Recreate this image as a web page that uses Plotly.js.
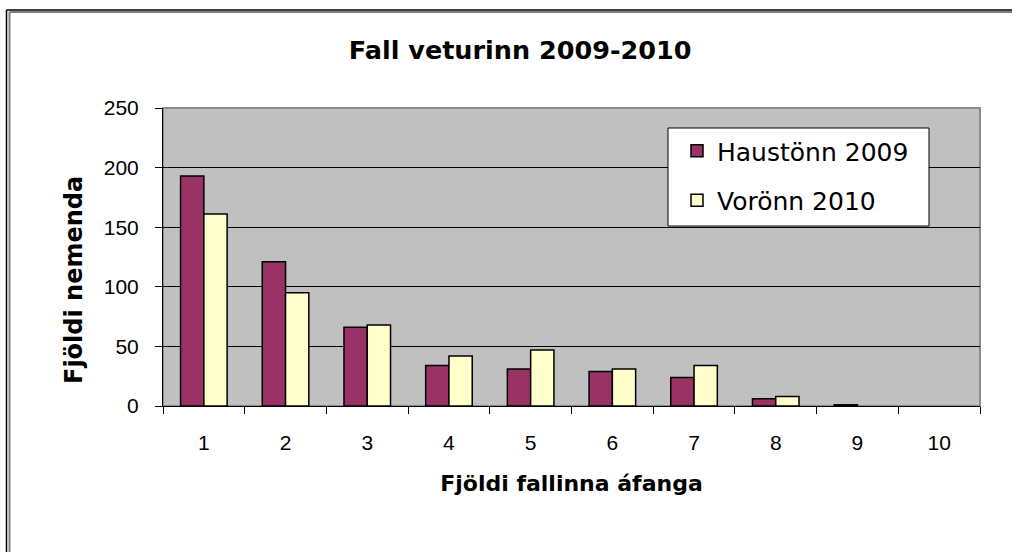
<!DOCTYPE html>
<html>
<head>
<meta charset="utf-8">
<script src="https://cdn.plot.ly/plotly-3.0.1.min.js"></script>
<style>
  html, body { margin: 0; padding: 0; background: #ffffff; }
  #chart { width: 1012px; height: 552px; }
</style>
</head>
<body>
<div id="chart"></div>
<script>
const categories = ['1', '2', '3', '4', '5', '6', '7', '8', '9', '10'];
const haust2009 = [193, 121, 66, 34, 31, 29, 24, 6, 1, 0];
const vor2010 = [161, 95, 68, 42, 47, 31, 34, 8, 0, 0];
const seriesNames = ['Haustönn 2009', 'Vorönn 2010'];
const chartTitle = 'Fall veturinn 2009-2010';
const xTitle = 'Fjöldi fallinna áfanga';
const yTitle = 'Fjöldi nemenda';
const yTicks = [0, 50, 100, 150, 200, 250];

const ARIAL = 'Liberation Sans, Arial, sans-serif';
const WIDE = 'DejaVu Sans, Liberation Sans, Arial, sans-serif';

// no outline on empty (zero-height) bars
const outline = vals => vals.map(v => (v === 0 ? 0 : 1.5));

const traces = [
  {
    type: 'bar', name: seriesNames[0], x: categories, y: haust2009,
    legendgroup: 'a',
    marker: { color: '#993366', line: { color: '#000000', width: outline(haust2009) } },
    hoverinfo: 'x+y+name'
  },
  {
    type: 'bar', name: seriesNames[1], x: categories, y: vor2010,
    legendgroup: 'b',
    marker: { color: '#FFFFCC', line: { color: '#000000', width: outline(vor2010) } },
    hoverinfo: 'x+y+name'
  }
];

const L = 163, R = 980, T = 108, B = 406, W = 1012, H = 552;
const pw = R - L, ph = B - T;
const px = v => (v - L) / pw;
const py = v => (B - v) / ph;

const layout = {
  width: W, height: H,
  margin: { l: L, r: W - R, t: T, b: H - B, pad: 0 },
  paper_bgcolor: '#ffffff',
  plot_bgcolor: '#C0C0C0',
  font: { family: ARIAL, color: '#000000', size: 21 },
  barmode: 'group',
  bargap: 0.43,
  bargroupgap: 0,
  showlegend: true,
  title: {
    text: chartTitle,
    font: { family: WIDE, size: 25.5, color: '#000000', weight: 'bold' },
    x: 0.514, xref: 'container', xanchor: 'center',
    y: 1 - 50 / H, yref: 'container', yanchor: 'middle'
  },
  xaxis: {
    type: 'category',
    categoryorder: 'array', categoryarray: categories,
    tickson: 'boundaries',
    ticks: 'outside', ticklen: 7, tickwidth: 1, tickcolor: '#000000',
    showline: true, linecolor: '#000000', linewidth: 1,
    showgrid: false, zeroline: false,
    tickfont: { family: ARIAL, size: 21, color: '#000000' },
    ticklabelstandoff: 18,
    automargin: true,
    title: { text: xTitle, font: { family: WIDE, size: 22, color: '#000000', weight: 'bold' }, standoff: 22 },
    fixedrange: true
  },
  yaxis: {
    range: [0, 250],
    tickvals: yTicks,
    ticktext: yTicks.map(String),
    ticks: 'outside', ticklen: 7, tickwidth: 1, tickcolor: '#000000',
    showline: true, linecolor: '#000000', linewidth: 1,
    showgrid: true, gridcolor: '#000000', gridwidth: 1,
    zeroline: false,
    tickfont: { family: ARIAL, size: 21, color: '#000000' },
    ticklabelstandoff: 12,
    automargin: true,
    fixedrange: true
  },
  annotations: [
    // y-axis title (Excel centres it lower than the plot centre)
    { text: yTitle, textangle: -90, showarrow: false,
      xref: 'paper', yref: 'paper', x: px(74), y: py(280),
      xanchor: 'center', yanchor: 'middle',
      font: { family: WIDE, size: 24, color: '#000000', weight: 'bold' } }
  ],
  legend: {
    x: px(677), xanchor: 'left',
    y: py(128), yanchor: 'top',
    bgcolor: 'rgba(0,0,0,0)',
    borderwidth: 0,
    traceorder: 'grouped',
    tracegroupgap: 14,
    font: { family: WIDE, size: 25, color: '#000000' },
    itemclick: false, itemdoubleclick: false
  },
  shapes: [
    // plot area border
    { type: 'rect', xref: 'paper', yref: 'paper', x0: 0, x1: 1, y0: 0, y1: 1,
      line: { color: '#8a8a8a', width: 2 }, fillcolor: 'rgba(0,0,0,0)', layer: 'below' },
    // legend box
    { type: 'rect', xref: 'paper', yref: 'paper', x0: px(668), x1: px(929), y0: py(226), y1: py(128),
      line: { color: '#000000', width: 1 }, fillcolor: '#ffffff', layer: 'above' },
    // outer chart frame (black)
    { type: 'line', xref: 'paper', yref: 'paper', x0: px(6.5), x1: px(6.5), y0: py(10), y1: py(570),
      line: { color: '#000000', width: 1.5 } },
    { type: 'line', xref: 'paper', yref: 'paper', x0: px(6.5), x1: px(1030), y0: py(10), y1: py(10),
      line: { color: '#000000', width: 1.5 } },
    // inner gray frame
    { type: 'line', xref: 'paper', yref: 'paper', x0: px(9.5), x1: px(9.5), y0: py(12), y1: py(570),
      line: { color: '#808080', width: 2 } },
    { type: 'line', xref: 'paper', yref: 'paper', x0: px(9.5), x1: px(1030), y0: py(12), y1: py(12),
      line: { color: '#808080', width: 2 } }
  ]
};

Plotly.newPlot('chart', traces, layout, { displayModeBar: false, responsive: false });
</script>
</body>
</html>
